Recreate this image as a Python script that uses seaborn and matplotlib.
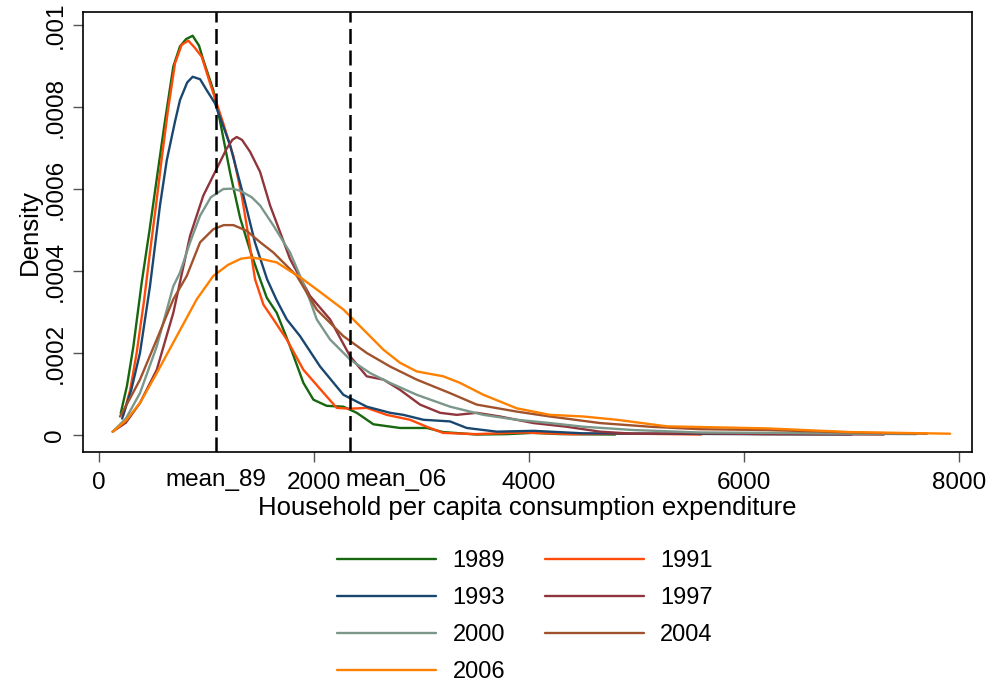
import numpy as np
import pandas as pd
import matplotlib
matplotlib.use("Agg")
import matplotlib.pyplot as plt
import matplotlib.transforms as mtransforms
import seaborn as sns

years = ["1989", "1991", "1993", "1997", "2000", "2004", "2006"]
colors = ["#16670E", "#FF4A0A", "#1A476F", "#90353B", "#7A978A", "#A0522D", "#FF8000"]

x_1989 = [202, 260, 319, 397, 470, 537, 610, 691, 753, 810, 871, 930, 970, 1063, 1126, 1219, 1312, 1405, 1498, 1560, 1653, 1777, 1901, 1994, 2118, 2273, 2397, 2552, 2800, 3050, 3200, 3513, 3800, 4030, 4300, 4800]
y_1989 = [0.000053, 0.000120, 0.000215, 0.000372, 0.000500, 0.000625, 0.000760, 0.000899, 0.000948, 0.000966, 0.000974, 0.000950, 0.000915, 0.000841, 0.000765, 0.000640, 0.000530, 0.000450, 0.000380, 0.000335, 0.000298, 0.000216, 0.000127, 0.000086, 0.000071, 0.000069, 0.000054, 0.000026, 0.000017, 0.000017, 0.000007, 0.000001, 0.000002, 0.000005, 0.000002, 0.000001]

x_1991 = [226, 290, 350, 420, 474, 530, 583, 640, 707, 769, 831, 890, 955, 1033, 1156, 1250, 1330, 1374, 1451, 1529, 1622, 1746, 1901, 2087, 2211, 2335, 2490, 2676, 2893, 3048, 3200, 3500, 3950, 4400, 5000, 5600]
y_1991 = [0.000049, 0.000110, 0.000200, 0.000330, 0.000446, 0.000560, 0.000674, 0.000790, 0.000907, 0.000952, 0.000962, 0.000945, 0.000923, 0.000858, 0.000760, 0.000680, 0.000580, 0.000510, 0.000380, 0.000318, 0.000282, 0.000233, 0.000159, 0.000103, 0.000066, 0.000064, 0.000066, 0.000049, 0.000037, 0.000020, 0.000005, 0.000002, 0.000006, 0.000002, 0.000003, 0.000001]

x_1993 = [215, 300, 381, 474, 567, 630, 707, 753, 820, 871, 940, 1002, 1079, 1219, 1343, 1450, 1563, 1650, 1746, 1870, 2056, 2273, 2490, 2707, 2831, 3017, 3265, 3420, 3700, 4040, 4500, 5200, 6000, 7000]
y_1993 = [0.000040, 0.000110, 0.000200, 0.000363, 0.000560, 0.000670, 0.000765, 0.000817, 0.000860, 0.000874, 0.000868, 0.000841, 0.000809, 0.000707, 0.000584, 0.000470, 0.000380, 0.000330, 0.000282, 0.000241, 0.000167, 0.000098, 0.000069, 0.000054, 0.000049, 0.000037, 0.000033, 0.000017, 0.000008, 0.000010, 0.000004, 0.000003, 0.000002, 0.000001]

x_1997 = [127, 250, 381, 537, 691, 847, 970, 1095, 1188, 1240, 1281, 1330, 1405, 1498, 1591, 1684, 1777, 1963, 2149, 2335, 2490, 2645, 2800, 2986, 3172, 3327, 3513, 3730, 4040, 4350, 4660, 4970, 5600, 6200, 7300]
y_1997 = [0.000008, 0.000030, 0.000078, 0.000159, 0.000298, 0.000486, 0.000584, 0.000650, 0.000699, 0.000720, 0.000727, 0.000720, 0.000691, 0.000642, 0.000560, 0.000495, 0.000429, 0.000339, 0.000282, 0.000192, 0.000143, 0.000135, 0.000110, 0.000074, 0.000054, 0.000049, 0.000054, 0.000045, 0.000029, 0.000020, 0.000008, 0.000003, 0.000004, 0.000002, 0.000001]

x_2000 = [127, 250, 381, 537, 691, 753, 847, 940, 1040, 1156, 1240, 1312, 1420, 1498, 1622, 1777, 1870, 1960, 2025, 2149, 2335, 2521, 2707, 2955, 3265, 3575, 3885, 4195, 4505, 4970, 5590, 6300, 7000, 7600]
y_2000 = [0.000008, 0.000040, 0.000102, 0.000216, 0.000363, 0.000396, 0.000470, 0.000535, 0.000580, 0.000600, 0.000601, 0.000596, 0.000580, 0.000560, 0.000511, 0.000445, 0.000388, 0.000330, 0.000282, 0.000233, 0.000184, 0.000151, 0.000127, 0.000098, 0.000069, 0.000049, 0.000037, 0.000029, 0.000020, 0.000012, 0.000006, 0.000005, 0.000003, 0.000002]

x_2004 = [195, 290, 381, 537, 691, 816, 940, 1063, 1160, 1250, 1374, 1500, 1622, 1840, 2025, 2273, 2490, 2707, 2955, 3265, 3513, 3885, 4195, 4660, 5126, 5590, 6211, 7141, 7700]
y_2004 = [0.000045, 0.000090, 0.000135, 0.000233, 0.000331, 0.000388, 0.000470, 0.000502, 0.000512, 0.000512, 0.000498, 0.000470, 0.000445, 0.000388, 0.000306, 0.000241, 0.000200, 0.000167, 0.000135, 0.000102, 0.000074, 0.000057, 0.000045, 0.000029, 0.000020, 0.000014, 0.000012, 0.000005, 0.000003]

x_2006 = [127, 250, 381, 537, 723, 909, 1063, 1200, 1320, 1405, 1500, 1653, 1777, 1870, 2025, 2273, 2490, 2645, 2800, 2955, 3203, 3358, 3575, 3885, 4195, 4505, 4816, 5281, 6211, 6986, 7916]
y_2006 = [0.000008, 0.000035, 0.000078, 0.000151, 0.000241, 0.000331, 0.000388, 0.000415, 0.000430, 0.000433, 0.000430, 0.000421, 0.000400, 0.000385, 0.000355, 0.000306, 0.000249, 0.000208, 0.000176, 0.000155, 0.000143, 0.000127, 0.000098, 0.000065, 0.000049, 0.000045, 0.000037, 0.000021, 0.000016, 0.000007, 0.000003]

series_x = [x_1989, x_1991, x_1993, x_1997, x_2000, x_2004, x_2006]
series_y = [y_1989, y_1991, y_1993, y_1997, y_2000, y_2004, y_2006]

mean_labels = ["mean_89", "mean_06"]
mean_values = [1084, 2335]
xticks = [0, 2000, 4000, 6000, 8000]
yticks = [0, 0.0002, 0.0004, 0.0006, 0.0008, 0.001]
ytick_labels = ["0", ".0002", ".0004", ".0006", ".0008", ".001"]

rows = []
for yr, xs, ys in zip(years, series_x, series_y):
    for xv, yv in zip(xs, ys):
        rows.append({"year": yr, "x": xv, "density": yv})
df = pd.DataFrame(rows)

sns.set_theme(style="white")
plt.rcParams["font.family"] = ["Liberation Sans", "DejaVu Sans"]
plt.rcParams["text.color"] = "black"
plt.rcParams["axes.labelcolor"] = "black"

TICK_FS = 17.5
TITLE_FS = 18.5
LEG_FS = 17

fig = plt.figure(figsize=(9.94, 6.82), dpi=100)
ax = fig.add_axes([0.0835, 0.3372, 0.8945, 0.6452])

sns.lineplot(data=df, x="x", y="density", hue="year", palette=colors,
             hue_order=years, estimator=None, sort=False, linewidth=1.7,
             ax=ax, legend=False)

for mv in mean_values:
    ax.axvline(mv, color="black", linestyle=(0, (6, 2.6)), linewidth=1.8)

ax.set_xlim(-149, 8121)
ax.set_ylim(-0.0000417, 0.001032)
ax.set_xticks(xticks)
ax.set_xticklabels([str(t) for t in xticks], fontsize=TICK_FS)
ax.set_xticks(mean_values, minor=True)
ax.set_xticklabels(mean_labels, minor=True, fontsize=TICK_FS)
ax.tick_params(axis="x", which="minor", length=0, pad=12.5, bottom=True, labelcolor="black")
ax.tick_params(axis="x", which="major", length=7, width=1, color="#555555", pad=7.5,
               bottom=True, labelcolor="black")
ax.set_yticks(yticks)
ax.set_yticklabels(ytick_labels, fontsize=TICK_FS, rotation=90, va="center")
ax.tick_params(axis="y", length=7.5, width=1, color="#555555", pad=4.5, left=True,
               labelcolor="black")

# the second mean label sits just right of the "2000" label, as in the reference
minor_labels = ax.get_xticklabels(minor=True)
minor_labels[1].set_horizontalalignment("left")
minor_labels[1].set_transform(minor_labels[1].get_transform() +
                              mtransforms.ScaledTranslation(-5 / 100, 0, fig.dpi_scale_trans))

for s in ax.spines.values():
    s.set_color("black")
    s.set_linewidth(1.2)

ax.set_xlabel("Household per capita consumption expenditure", fontsize=TITLE_FS, labelpad=1.5)
ax.set_ylabel("Density", fontsize=TITLE_FS, labelpad=1.5)

handles = [matplotlib.lines.Line2D([], [], color=c, linewidth=1.7) for c in colors]
order = [0, 2, 4, 6, 1, 3, 5]
fig.legend([handles[i] for i in order], [years[i] for i in order],
           ncol=2, loc="upper center", bbox_to_anchor=(0.528, 1 - 529 / 682),
           frameon=False, fontsize=LEG_FS, handlelength=4.2, handletextpad=0.68,
           columnspacing=1.67, labelspacing=0.63)

fig.savefig("out.png", dpi=100)
